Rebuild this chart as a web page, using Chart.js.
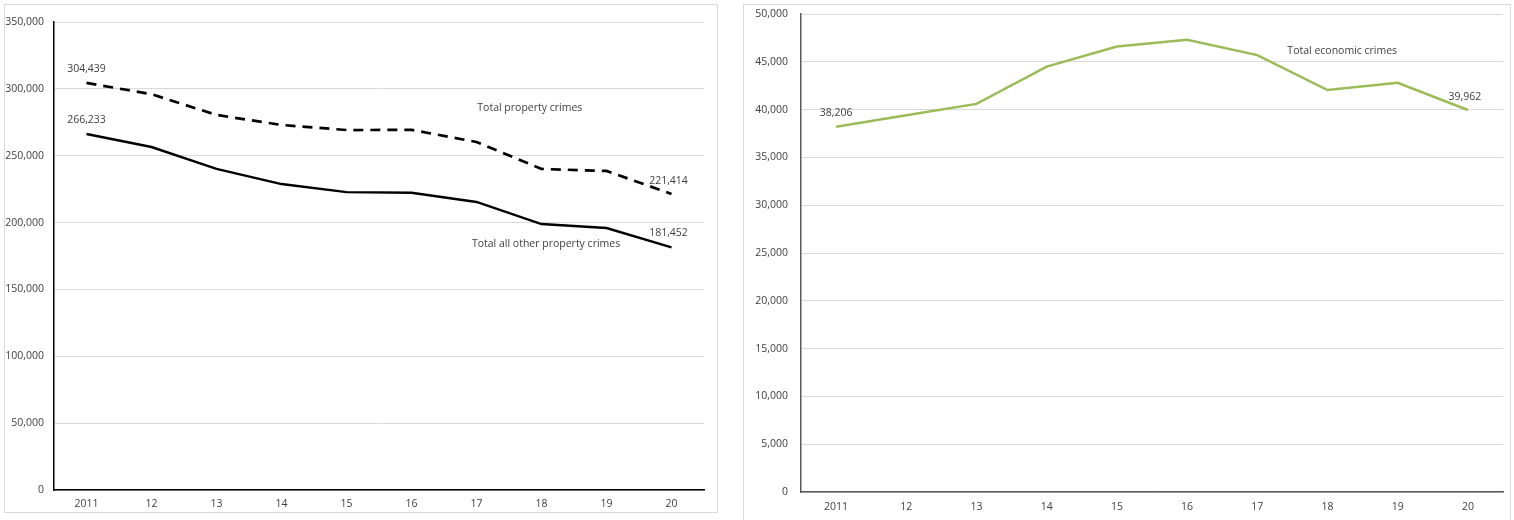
<!DOCTYPE html>
<html>
<head>
<meta charset="utf-8">
<script src="https://cdn.jsdelivr.net/npm/chart.js@4.4.1/dist/chart.umd.min.js"></script>
<style>
    body { margin: 0; width: 1514px; height: 520px; overflow: hidden; background: #fff; position: relative; }
    .frame { position: absolute; border: 1px solid #d9d9d9; box-sizing: border-box; }
    .chart-box { position: absolute; }
    #leftFrame, #leftBox { left: 4px; top: 4px; width: 714px; height: 509px; }
    #rightFrame, #rightBox { left: 743px; top: 4px; width: 768px; height: 530px; }
</style>
</head>
<body>
<div class="frame" id="leftFrame"></div>
<div class="frame" id="rightFrame"></div>
<div class="chart-box" id="leftBox"><canvas id="propertyChart"></canvas></div>
<div class="chart-box" id="rightBox"><canvas id="economicChart"></canvas></div>

<script>
const years = ['2011', '12', '13', '14', '15', '16', '17', '18', '19', '20'];
const totalPropertyCrimes = [304439, 296000, 280500, 273000, 269200, 269300, 260300, 240100, 238600, 221414];
const otherPropertyCrimes = [266233, 256500, 240100, 228800, 222800, 222300, 215400, 198900, 195900, 181452];
const economicCrimes = [38206, 39400, 40600, 44500, 46600, 47300, 45700, 42050, 42800, 39962];

const FONT = '"Open Sans", sans-serif';
const TEXT = '#404040';

const fmt = v => v.toLocaleString('en-US');

// draws value labels and series names at data positions
const textLabels = {
    id: 'textLabels',
    afterDatasetsDraw(chart, args, opts) {
        const ctx = chart.ctx;
        const xs = chart.scales.x;
        const ys = chart.scales.y;
        ctx.save();
        ctx.font = '10.5px ' + FONT;
        ctx.fillStyle = TEXT;
        ctx.textAlign = 'center';
        ctx.textBaseline = 'middle';
        opts.items.forEach(item => {
            const px = xs.getPixelForValue(item.x) + (item.dx || 0);
            const py = ys.getPixelForValue(item.y) + (item.dy || 0);
            ctx.fillText(item.text, px, py);
        });
        ctx.restore();
    }
};

function makeOptions(max, step, yWidth, xHeight, padding, axisColor, labelItems, xPad, yPad) {
    return {
        responsive: true,
        maintainAspectRatio: false,
        animation: false,
        layout: { padding: padding },
        plugins: {
            legend: { display: false },
            tooltip: { enabled: false },
            textLabels: { items: labelItems }
        },
        scales: {
            x: {
                offset: true,
                grid: { display: false, drawTicks: false },
                border: { display: true, color: axisColor, width: 1.5 },
                ticks: { color: TEXT, font: { family: FONT, size: 10.5 }, padding: xPad, maxRotation: 0 },
                afterFit: scale => { scale.height = xHeight; }
            },
            y: {
                min: 0,
                max: max,
                grid: { color: '#d9d9d9', drawTicks: false },
                border: { display: true, color: axisColor, width: 1.5 },
                ticks: {
                    stepSize: step,
                    color: TEXT,
                    font: { family: FONT, size: 10.5 },
                    padding: yPad,
                    callback: v => fmt(v)
                },
                afterFit: scale => {
                    scale.width = yWidth;
                    // tick padding should not push the plot down
                    scale.paddingTop = 7;
                    scale.paddingBottom = 7;
                }
            }
        }
    };
}

function createCharts() {
    const last = years.length - 1;

    new Chart(document.getElementById('propertyChart').getContext('2d'), {
        type: 'line',
        data: {
            labels: years,
            datasets: [{
                label: 'Total property crimes',
                data: totalPropertyCrimes,
                borderColor: '#000',
                borderWidth: 2.7,
                borderDash: [10, 7],
                pointRadius: 0,
                tension: 0
            }, {
                label: 'Total all other property crimes',
                data: otherPropertyCrimes,
                borderColor: '#000',
                borderWidth: 2.4,
                pointRadius: 0,
                tension: 0
            }]
        },
        options: makeOptions(350000, 50000, 50, 23, { top: 18, right: 14 }, '#000', [
            { text: fmt(totalPropertyCrimes[0]), x: 0, y: totalPropertyCrimes[0], dy: -14 },
            { text: fmt(otherPropertyCrimes[0]), x: 0, y: otherPropertyCrimes[0], dy: -14 },
            { text: fmt(totalPropertyCrimes[last]), x: last, y: totalPropertyCrimes[last], dx: -3, dy: -13 },
            { text: fmt(otherPropertyCrimes[last]), x: last, y: otherPropertyCrimes[last], dx: -3, dy: -14 },
            { text: 'Total property crimes', x: 6.82, y: 285500 },
            { text: 'Total all other property crimes', x: 7.07, y: 184000 }
        ], 8, 10),
        plugins: [textLabels]
    });

    new Chart(document.getElementById('economicChart').getContext('2d'), {
        type: 'line',
        data: {
            labels: years,
            datasets: [{
                label: 'Total economic crimes',
                data: economicCrimes,
                borderColor: '#9bbb59',
                borderWidth: 2.5,
                pointRadius: 0,
                tension: 0
            }]
        },
        options: makeOptions(50000, 5000, 58, 42, { top: 10, right: 8 }, '#595959', [
            { text: fmt(economicCrimes[0]), x: 0, y: economicCrimes[0], dy: -14 },
            { text: fmt(economicCrimes[last]), x: last, y: economicCrimes[last], dx: -3, dy: -13 },
            { text: 'Total economic crimes', x: 7.21, y: 46130 }
        ], 9, 13),
        plugins: [textLabels]
    });
}

window.onload = function () {
    createCharts();
};
</script>
</body>
</html>
